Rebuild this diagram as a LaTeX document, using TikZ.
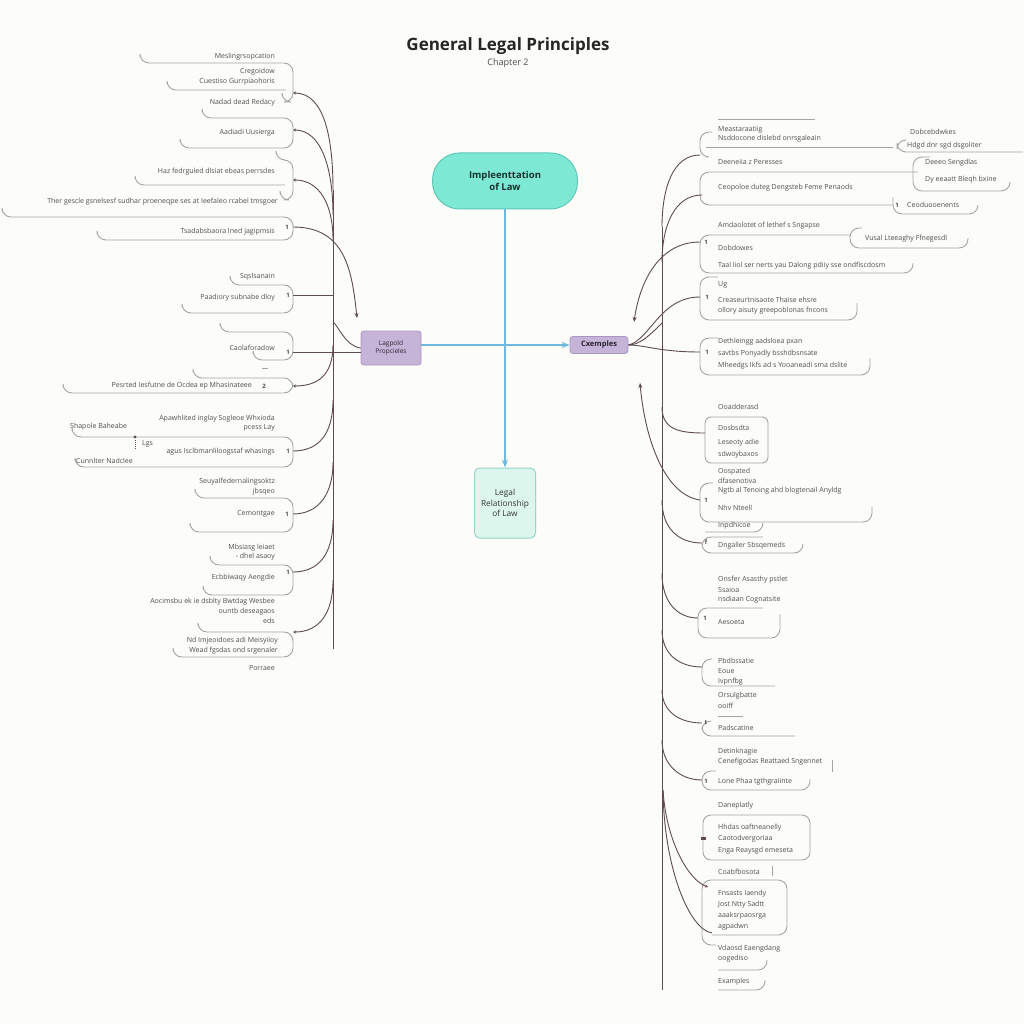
\documentclass[tikz,border=0pt]{standalone}
\usepackage{fontspec}
\setmainfont{Open Sans}
\usetikzlibrary{arrows.meta, positioning, calc}
\definecolor{bg}{RGB}{252,252,249}
\definecolor{implfill}{RGB}{125,232,212}
\definecolor{implline}{RGB}{95,200,185}
\definecolor{relfill}{RGB}{220,246,238}
\definecolor{relline}{RGB}{150,215,200}
\definecolor{topfill}{RGB}{198,180,216}
\definecolor{topline}{RGB}{170,150,195}
\definecolor{flow}{RGB}{110,185,220}
\definecolor{linkc}{RGB}{95,75,80}
\definecolor{brkc}{RGB}{165,165,165}
\definecolor{txtc}{RGB}{80,80,80}

\begin{document}
\begin{tikzpicture}[
    x=1pt, y=-1pt,
    pill/.style={draw=implline, fill=implfill, line width=1pt, rounded corners=27pt, minimum width=145pt, minimum height=56pt, align=center, font=\fontsize{9.5}{12}\selectfont\bfseries, text=black!75!implline},
    relbox/.style={draw=relline, fill=relfill, line width=1pt, rounded corners=5pt, minimum width=61pt, minimum height=70pt, align=center, font=\fontsize{8.3}{10.5}\selectfont, text=black!80},
    topic/.style={draw=topline, fill=topfill, line width=0.8pt, rounded corners=3pt, align=center, text=black!75!topline},
    arrow/.style={-{Stealth[length=8pt, width=6pt]}, draw=flow, line width=1.4pt},
    brk/.style={draw=brkc, line width=0.9pt, rounded corners=9pt},
    link/.style={draw=linkc, line width=0.9pt},
    tipin/.style={{Stealth[length=3pt, width=3pt]}-, draw=linkc, line width=0.9pt},
    tipout/.style={-{Stealth[length=5pt, width=4pt]}, draw=linkc, line width=0.9pt},
    lbl/.style={font=\fontsize{7}{8}\selectfont, text=txtc, inner sep=0pt},
    mrk/.style={font=\fontsize{6}{7}\selectfont\bfseries, text=black!70, inner sep=0pt}
]
\useasboundingbox (0,0) rectangle (1024,1024);
\fill[bg] (0,0) rectangle (1024,1024);

% title
\node[font=\fontsize{17}{20}\selectfont\bfseries, text=black!85] (title) at (508,46) {General Legal Principles};
\node[font=\fontsize{9}{10}\selectfont, text=black!70] (chap) at (508,63) {Chapter 2};

% centre
\node[pill] (impl) at (505,181) {Impleenttation\\of Law};
\node[relbox] (rel) at (505,503) {Legal\\Relationship\\of Law};
\node[topic, minimum width=60pt, minimum height=34pt, font=\fontsize{6.5}{8}\selectfont] (lp) at (391,348) {Lagpold\\Propcieles};
\node[topic, minimum width=58pt, minimum height=17pt, font=\fontsize{7.5}{9}\selectfont\bfseries] (ex) at (599,345) {Cxemples};
\draw[arrow] (impl) -- (rel);
\draw[arrow] (lp.east |- ex.west) -- (ex.west);

% left brackets
\foreach \xa/\yt/\yb/\xb/\ym [count=\i] in {140/63/102/282/93, 202/118/148/180/130, 276/160/200/280/180, 2/217/240/97/227, 230/285/313/182/295, 220/332/360/253/352, 193/378/393/63/386, 72/437/467/75/451, 195/498/532/190/514, 210/565/595/203/572, 198/632/657/173/632} {
    \draw[brk] (\xa,\yt-6) -- (\xa,\yt) -- (293,\yt) -- (293,\yb) -- (\xb,\yb) -- (\xb,\yb-6);
    \coordinate (la\i) at (293,\ym);
}
\draw[brk] (167,84) -- (167,90) -- (286,90);
\draw[brk] (135,179) -- (135,185) -- (285,185);
\draw[brk] (262,368) -- (268,368);
\fill[linkc] (135,437) circle (1.6pt);
\draw[linkc, densely dotted, line width=1pt] (135,440) -- (135,449);

\foreach \x/\y/\t [count=\i] in {275/57/Meslingrsopcation, 275/72/Cregoidow, 275/82/Cuestiso Gurrpiaohoris, 275/103/Nadad dead Redacy, 275/133/Aadiadi Uusierga, 275/172/Haz fedrguled dlsiat ebeas perrsdes, 278/202/Ther gescle gsnelsesf sudhar proeneqpe ses at Ieefaleo rcabel tmsgoer, 275/232/Tsadabsbaora Ined jagipmsis, 275/277/Sqslsanain, 275/298/Paadiory subnabe dloy, 275/348/Caolaforadow, 252/386/Pesrted Iesfutne de Ocdea ep Mhasinateee, 275/419/Apawhlited inglay Sogleoe Whxioda, 275/428/pcess Lay, 275/452/agus Isclbmanliloogstaf whasings, 275/482/Seuyalfedernalingsoktz, 275/492/jbsqeo, 275/514/Cemontgae, 275/548/Mbsiasg leiaet, 275/557/- dhel asaoy, 275/578/Ecbbiwaqy Aengdie, 275/602/Aocimsbu ek ie dsblty Bwtdag Wesbee, 275/612/ountb deseagaos, 275/621/eds, 278/641/Nd Imjeoidoes adi Meisyiioy, 278/651/Wead fgsdas ond srgenaler, 275/668/Porraee}
    \node[lbl, anchor=east] (ltx\i) at (\x,\y) {\t};
\node[lbl, anchor=west] (ltw1) at (70,427) {Shapole Baheabe};
\node[lbl, anchor=west] (ltw2) at (142,444) {Lgs};
\node[lbl, anchor=west] (ltw3) at (76,461) {Cunnlter Nadclee};
\foreach \x/\y/\t [count=\i] in {287/227/1, 288/295/1, 288/352/1, 264/386/2, 288/451/1, 287/514/1, 288/572/1}
    \node[mrk] (lm\i) at (\x,\y) {\t};

% left trunk
\coordinate (ljA) at (333,190);
\coordinate (ljB) at (333,215);
\coordinate (ljC) at (333,240);
\coordinate (ljD) at (333,295);
\coordinate (ljE) at (333,322);
\coordinate (ljF) at (333,345);
\coordinate (ljG) at (333,400);
\coordinate (ljH) at (333,462);
\coordinate (ljI) at (333,520);
\coordinate (ljJ) at (333,580);
\coordinate (ljK) at (333,649);
\coordinate (lparr) at (357,318);
\draw[link] (ljA) -- (ljK);
\draw[tipin] (la1) .. controls (325,93) and (333,140) .. (ljA);
\draw[tipin] (la2) .. controls (322,130) and (333,170) .. (ljB);
\draw[tipin] (la3) .. controls (320,180) and (333,205) .. (ljC);
\draw[tipout] (la4) .. controls (345,227) and (352,270) .. (lparr);
\draw[link] (la5) -- (ljD);
\draw[link] (la6) -- (la6 -| lp.west);
\draw[link] (lp.west) .. controls (345,346) and (338,325) .. (ljE);
\draw[tipin] (la7) .. controls (318,386) and (333,375) .. (ljF);
\draw[link] (la8) .. controls (318,451) and (333,435) .. (ljG);
\draw[link] (la9) .. controls (318,514) and (333,495) .. (ljH);
\draw[link] (la10) .. controls (318,572) and (333,555) .. (ljI);
\draw[tipin] (la11) .. controls (318,632) and (333,615) .. (ljJ);

% right lines and boxes
\draw[brk] (718,119) -- (815,119);
\draw[brk] (712,132) -- (700,132) -- (700,157) -- (706,157);
\draw[brk] (706,147) -- (893,147);
\draw[brk] (905,140) -- (897,140) -- (897,152) -- (1023,152);
\draw[brk] (918,172) -- (700,172) -- (700,205) -- (893,205);
\draw[brk] (930,157) -- (913,157) -- (913,191) -- (1010,191) -- (1010,183);
\draw[brk] (893,197) -- (893,214) -- (978,214) -- (978,205);
\draw[brk] (850,235) -- (700,235) -- (700,273) -- (913,273) -- (913,263);
\draw[brk] (862,228) -- (850,228) -- (850,248) -- (968,248) -- (968,238);
\draw[brk] (718,277) -- (700,277) -- (700,320) -- (857,320) -- (857,303);
\draw[brk] (718,338) -- (700,338) -- (700,375) -- (870,375) -- (870,358);
\draw[brk, rounded corners=6pt] (705,417) rectangle (768,463);
\draw[brk] (713,483) -- (700,483) -- (700,522) -- (872,522) -- (872,507);
\draw[brk] (705,532) -- (763,532) -- (763,524);
\draw[brk] (763,537) -- (702,537) -- (702,553) -- (803,553) -- (803,545);
\draw[brk] (763,608) -- (698,608) -- (698,638) -- (780,638) -- (780,614);
\draw[brk] (712,659) -- (702,659) -- (702,686) -- (775,686);
\draw[brk] (718,716) -- (743,716);
\draw[brk] (710,721) -- (702,721) -- (702,736) -- (795,736);
\draw[brk] (832,760) -- (832,772);
\draw[brk] (716,771) -- (702,771) -- (702,790) -- (810,790) -- (810,779);
\draw[brk, rounded corners=8pt] (703,815) rectangle (810,860);
\draw[brk] (772,866) -- (772,876);
\draw[brk] (712,935) -- (787,935) -- (787,880) -- (702,880) -- (702,945) -- (716,945);
\draw[brk] (718,970) -- (767,970) -- (767,960);
\draw[brk] (718,990) -- (765,990) -- (765,980);
\node[fill=linkc, inner sep=0pt, minimum width=5pt, minimum height=3pt] (rmk) at (703,838) {};

\foreach \x/\y/\t [count=\i] in {718/130/Meastaraatiig, 718/139/Nsddocone dislebd onrsgaleain, 910/132/Dobcebdwkes, 907/146/Hdgd dnr sgd dsgoliter, 718/162/Deeneiia z Peresses, 925/163/Deeeo Sengdlas, 925/180/Dy eeaatt Bleqh bxine, 718/188/Ceopoloe duteg Dengsteb Feme Penaods, 907/205/Ceoduooenents, 718/226/Amdaolotet of lethef s Sngapse, 865/239/Vusal Lteeaghy Ffnegesdl, 718/248/Dobdowes, 718/266/Taal liol ser nerts yau Dalong pdiiy sse ondfiscdosm, 718/285/Ug, 718/300/Creaseurtnisaote Thaise ehsre, 718/311/ollory aisuty greepoblonas fncons, 718/342/Dethleingg aadsloea pxan, 718/354/savtbs Ponyadly bsshdbsnsate, 718/366/Mheedgs Ikfs ad s Yooaneadi sma dslite, 718/407/Ooadderasd, 718/428/Dosbsdta, 718/443/Leseoty adie, 718/455/sdwoybaxos, 718/472/Oospated, 718/481/dfasenotiva, 718/491/Ngtb al Tenoing ahd blogtenail Anyldg, 718/508/Nhv Nteell, 718/526/Inpdhicoe, 718/546/Dngaller Sbsqemeds, 718/580/Onsfer Asasthy pstlet, 718/590/Ssaioa, 718/600/nsdiaan Cognatsite, 718/622/Aesoeta, 718/661/Pbdbssatie, 718/671/Eoue, 718/682/Ivpnfbg, 718/696/Orsulgbatte, 718/706/ooiff, 718/728/Padscatine, 718/752/Detinknagie, 718/762/Cenefigodas Reattaed Sngennet, 718/782/Lone Phaa tgthgraiinte, 718/806/Daneplatly, 718/828/Hhdas oaftneanelly, 718/839/Caotodvergoriaa, 718/851/Enga Reaysgd emeseta, 718/872/Coabfbosota, 718/894/Fnsasts Iaendy, 718/905/Jost Ntty Sadtt, 718/916/aaaksrpaosrga, 718/927/agpadwn, 718/949/Vdaosd Eaengdang, 718/959/oogediso, 718/982/Examples}
    \node[lbl, anchor=west] (rtx\i) at (\x,\y) {\t};
\foreach \x/\y/\t [count=\i] in {897/205/1, 706/242/1, 707/297/1, 707/352/1, 706/500/1, 706/542/f, 705/618/1, 706/723/t, 706/781/1}
    \node[mrk] (rm\i) at (\x,\y) {\t};

% right trunk
\coordinate (ra1) at (700,155);
\coordinate (ra2) at (702,195);
\coordinate (ra3) at (700,242);
\coordinate (ra4) at (700,297);
\coordinate (ra5) at (700,352);
\coordinate (ra6) at (705,433);
\coordinate (ra7) at (700,500);
\coordinate (ra8) at (702,543);
\coordinate (ra9) at (698,618);
\coordinate (ra10) at (702,667);
\coordinate (ra11) at (702,723);
\coordinate (ra12) at (702,780);
\coordinate (ra14) at (708,887);
\coordinate (ra15) at (712,933);
\coordinate (rjA) at (662,227);
\coordinate (rjB) at (662,262);
\coordinate (rjC) at (662,323);
\coordinate (rjD) at (662,407);
\coordinate (rjE) at (662,500);
\coordinate (rjF) at (662,573);
\coordinate (rjG) at (662,630);
\coordinate (rjH) at (662,690);
\coordinate (rjI) at (662,740);
\coordinate (rjJ) at (663,790);
\coordinate (rjZ) at (662,990);
\coordinate (exin) at (634,322);
\coordinate (exup) at (640,383);
\draw[link] (rjA) -- (rjZ);
\draw[link] (ra1) .. controls (672,155) and (662,190) .. (rjA);
\draw[link] (ra2) .. controls (675,195) and (662,225) .. (rjB);
\draw[tipout] (ra3) .. controls (660,242) and (640,280) .. (exin);
\draw[link] (ra4) .. controls (660,297) and (650,340) .. (ex.east);
\draw[link] (ra5) .. controls (660,352) and (645,345) .. (ex.east);
\draw[link] (rjC) .. controls (650,335) and (640,345) .. (ex.east);
\draw[link] (rjD) .. controls (662,430) and (680,433) .. (ra6);
\draw[tipout] (ra7) .. controls (665,495) and (645,440) .. (exup);
\draw[link] (rjE) .. controls (662,530) and (680,543) .. (ra8);
\draw[link] (rjF) .. controls (662,603) and (678,618) .. (ra9);
\draw[link] (rjG) .. controls (662,655) and (680,667) .. (ra10);
\draw[link] (rjH) .. controls (662,712) and (680,723) .. (ra11);
\draw[link] (rjI) .. controls (662,765) and (680,780) .. (ra12);
\draw[tipin] (ra14) .. controls (688,880) and (666,840) .. (rjJ);
\draw[link] (ra15) .. controls (690,930) and (664,870) .. (rjJ);

\end{tikzpicture}
\end{document}
